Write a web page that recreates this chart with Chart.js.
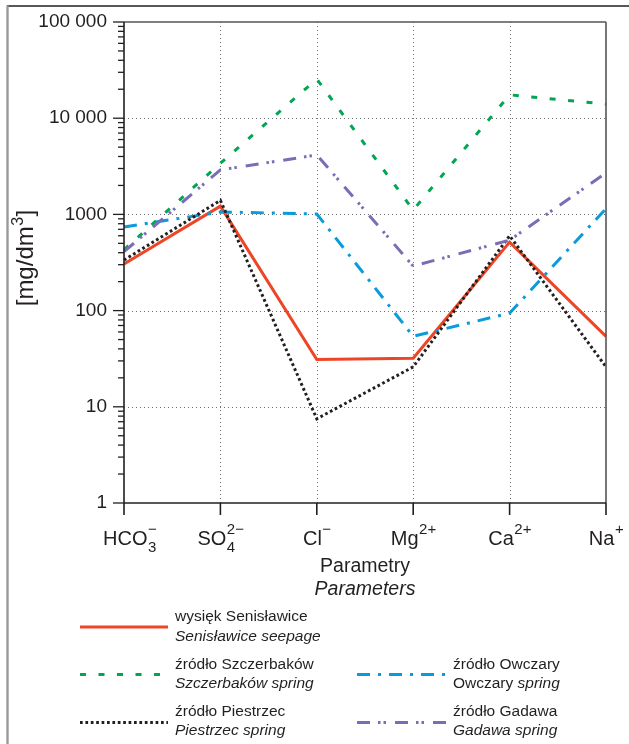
<!DOCTYPE html>
<html><head><meta charset="utf-8">
<script src="https://cdn.jsdelivr.net/npm/chart.js@4/dist/chart.umd.min.js"></script>
<style>html,body{margin:0;padding:0;background:#fff;}canvas{display:block;}</style>
</head><body>
<canvas id="c" width="629" height="744"></canvas>
<script>
// ---- data ----
const categories = ['HCO3−', 'SO4 2−', 'Cl−', 'Mg2+', 'Ca2+', 'Na+'];
const catMain = ['HCO', 'SO', 'Cl', 'Mg', 'Ca', 'Na'];
const catSub  = ['3', '4', '', '', '', ''];
const catSup  = ['−', '2−', '−', '2+', '2+', '+'];
const yTickValues = [1, 10, 100, 1000, 10000, 100000];
const yTickLabels = ['1', '10', '100', '1000', '10 000', '100 000'];
const senislawice = [305, 1220, 31, 32, 515, 54];
const szczerbakow = [430, 3400, 25500, 1110, 17500, 14000];
const piestrzec   = [335, 1400, 7.5, 26, 600, 26];
const owczary     = [740, 1060, 1010, 54, 94, 1150];
const gadawa      = [410, 2900, 4150, 290, 540, 2700];
const seriesNamesPl = ['wysięk Senisławice', 'źródło Szczerbaków', 'źródło Piestrzec', 'źródło Owczary', 'źródło Gadawa'];
const seriesNamesEn = [['', 'Senisławice seepage'], ['', 'Szczerbaków spring'], ['', 'Piestrzec spring'], ['Owczary ', 'spring'], ['', 'Gadawa spring']];
const xTitle = ['Parametry', 'Parameters'];
const yTitle = ['[mg/dm', '3', ']'];

const FONT = '"Liberation Sans", Arial, sans-serif';
const TXT = '#231f20';
const styles = [
  {color: '#ee4526', dash: []},
  {color: '#00a651', dash: [6, 12.5]},
  {color: '#231f20', dash: [2.7, 2.7]},
  {color: '#0a9bdc', dash: [13, 8, 3, 8]},
  {color: '#7a6db6', dash: [13, 8, 2.5, 3, 2.5, 9]}
];
const seriesData = [senislawice, szczerbakow, piestrzec, owczary, gadawa];

function seg(ctx, x1, y1, x2, y2) { ctx.beginPath(); ctx.moveTo(x1, y1); ctx.lineTo(x2, y2); ctx.stroke(); }

const custom = {
  id: 'custom',
  beforeDatasetsDraw(chart) {
    const {ctx, chartArea: a, scales: {x, y}} = chart;
    ctx.save();
    ctx.strokeStyle = '#6d6e70'; ctx.lineWidth = 1; ctx.setLineDash([1, 3]);
    yTickValues.forEach((v, i) => {
      if (i === 0 || i === yTickValues.length - 1) return;
      const py = Math.round(y.getPixelForValue(v)) + 0.5;
      seg(ctx, a.left, py, a.right, py);
    });
    categories.forEach((c, i) => {
      if (i === 0 || i === categories.length - 1) return;
      const px = Math.round(x.getPixelForValue(i)) + 0.5;
      seg(ctx, px, a.top, px, a.bottom);
    });
    ctx.restore();
  },
  afterDatasetsDraw(chart) {
    const {ctx, chartArea: a, scales: {x, y}} = chart;
    ctx.save();
    ctx.setLineDash([]);
    // plot box top/right
    ctx.strokeStyle = '#555'; ctx.lineWidth = 1.6;
    seg(ctx, a.left, a.top, a.right, a.top);
    seg(ctx, a.right, a.top, a.right, a.bottom);
    // axes
    ctx.strokeStyle = '#231f20'; ctx.lineWidth = 1.6;
    seg(ctx, a.left, a.top, a.left, a.bottom);
    seg(ctx, a.left, a.bottom, a.right, a.bottom);
    // y ticks
    ctx.lineWidth = 1.3;
    for (let d = 0; d < yTickValues.length; d++) {
      const base = yTickValues[d];
      const py = y.getPixelForValue(base);
      seg(ctx, a.left - 11, py, a.left, py);
      if (d < yTickValues.length - 1) {
        for (let k = 2; k <= 9; k++) {
          const pm = y.getPixelForValue(base * k);
          seg(ctx, a.left - 6, pm, a.left, pm);
        }
      }
    }
    // x ticks
    ctx.lineWidth = 1.6;
    categories.forEach((c, i) => {
      const px = x.getPixelForValue(i);
      seg(ctx, px, a.bottom, px, a.bottom + 12);
    });
    // x labels with sub/superscripts
    ctx.fillStyle = TXT; ctx.textBaseline = 'alphabetic';
    const mainF = '20px ' + FONT, smallF = '15px ' + FONT;
    categories.forEach((c, i) => {
      const px = x.getPixelForValue(i);
      ctx.font = mainF; const mw = ctx.measureText(catMain[i]).width;
      ctx.font = smallF;
      const sw = catSub[i] ? ctx.measureText(catSub[i]).width : 0;
      const uw = catSup[i] ? ctx.measureText(catSup[i]).width : 0;
      const w = mw + Math.max(sw, uw);
      let sx = px - w / 2;
      if (sx < 103) sx = 103;
      const bl = a.bottom + 42;
      ctx.textAlign = 'left';
      ctx.font = mainF; ctx.fillText(catMain[i], sx, bl);
      ctx.font = smallF;
      if (catSub[i]) ctx.fillText(catSub[i], sx + mw + 0.5, bl + 7);
      if (catSup[i]) ctx.fillText(catSup[i], sx + mw + 0.5, bl - 11);
    });
    // x title
    ctx.textAlign = 'center'; ctx.textBaseline = 'middle';
    const cx = (a.left + a.right) / 2;
    ctx.font = '19.5px ' + FONT; ctx.fillText(xTitle[0], cx, 567);
    ctx.font = 'italic 19.5px ' + FONT; ctx.fillText(xTitle[1], cx, 590);
    // y title rotated
    ctx.save();
    ctx.translate(33, 258); ctx.rotate(-Math.PI / 2);
    ctx.textBaseline = 'alphabetic'; ctx.textAlign = 'left';
    const bigF = '24px ' + FONT, supF = '16px ' + FONT;
    ctx.font = bigF; const w0 = ctx.measureText(yTitle[0]).width, w2 = ctx.measureText(yTitle[2]).width;
    ctx.font = supF; const w1 = ctx.measureText(yTitle[1]).width;
    const tot = w0 + w1 + w2 + 1;
    let tx = -tot / 2;
    ctx.font = bigF; ctx.fillText(yTitle[0], tx, 0); tx += w0;
    ctx.font = supF; ctx.fillText(yTitle[1], tx + 0.5, -10); tx += w1 + 1;
    ctx.font = bigF; ctx.fillText(yTitle[2], tx, 0);
    ctx.restore();
    ctx.restore();
  },
  afterDraw(chart) {
    const {ctx} = chart;
    ctx.save();
    // outer frame
    ctx.setLineDash([]);
    ctx.strokeStyle = '#231f20'; ctx.lineWidth = 1.6;
    seg(ctx, 7, 6, 629, 6);
    ctx.strokeStyle = '#9a9a9a'; ctx.lineWidth = 2.4;
    seg(ctx, 7.5, 5.5, 7.5, 744);
    // legend
    const pos = [
      {x1: 80, x2: 168, ly: 627, tx: 175, t1: 617, t2: 637},
      {x1: 80, x2: 160, ly: 674.5, tx: 175, t1: 665, t2: 684},
      {x1: 80, x2: 168, ly: 722.5, tx: 175, t1: 712, t2: 731},
      {x1: 357, x2: 446, ly: 674.5, tx: 453, t1: 665, t2: 684},
      {x1: 357, x2: 446, ly: 722.5, tx: 453, t1: 712, t2: 731}
    ];
    pos.forEach((p, i) => {
      const s = styles[i];
      ctx.strokeStyle = s.color; ctx.lineWidth = 3; ctx.lineCap = 'butt';
      ctx.setLineDash(s.dash);
      seg(ctx, p.x1, p.ly, p.x2, p.ly);
      ctx.setLineDash([]);
      ctx.fillStyle = TXT; ctx.textAlign = 'left'; ctx.textBaseline = 'middle';
      ctx.font = '15.5px ' + FONT;
      ctx.fillText(seriesNamesPl[i], p.tx, p.t1);
      let x0 = p.tx;
      if (seriesNamesEn[i][0]) { ctx.fillText(seriesNamesEn[i][0], x0, p.t2); x0 += ctx.measureText(seriesNamesEn[i][0]).width; }
      ctx.font = 'italic 15.5px ' + FONT;
      ctx.fillText(seriesNamesEn[i][1], x0, p.t2);
    });
    ctx.restore();
  }
};

const order = [4, 3, 1, 2, 0];
const zeroPad = s => { s.paddingTop = 0; s.paddingBottom = 0; s.paddingLeft = 0; s.paddingRight = 0; };
new Chart(document.getElementById('c'), {
  type: 'line',
  data: {
    labels: categories,
    datasets: seriesData.map((d, i) => ({
      label: seriesNamesPl[i],
      data: d,
      borderColor: styles[i].color,
      borderWidth: 3,
      borderDash: styles[i].dash,
      borderCapStyle: 'butt',
      borderJoinStyle: 'miter',
      pointRadius: 0,
      tension: 0,
      fill: false,
      order: order[i]
    }))
  },
  options: {
    responsive: false,
    animation: false,
    events: [],
    devicePixelRatio: 1,
    layout: {padding: {left: 0, top: 22, right: 23, bottom: 0}},
    plugins: {legend: {display: false}, tooltip: {enabled: false}},
    scales: {
      x: {
        type: 'category', offset: false,
        grid: {display: false, drawTicks: false},
        border: {display: false},
        ticks: {display: false},
        afterFit: s => { s.height = 241; zeroPad(s); }
      },
      y: {
        type: 'logarithmic', min: 1, max: 100000,
        grid: {display: false, drawTicks: false},
        border: {display: false},
        afterBuildTicks: s => { s.ticks = yTickValues.map(v => ({value: v, major: true})); },
        ticks: {
          autoSkip: false, padding: 17, color: TXT,
          font: {family: FONT, size: 19},
          callback: v => { const i = yTickValues.indexOf(v); return i >= 0 ? yTickLabels[i] : ''; }
        },
        afterFit: s => { s.width = 124; zeroPad(s); }
      }
    }
  },
  plugins: [custom]
});
</script>
</body></html>
